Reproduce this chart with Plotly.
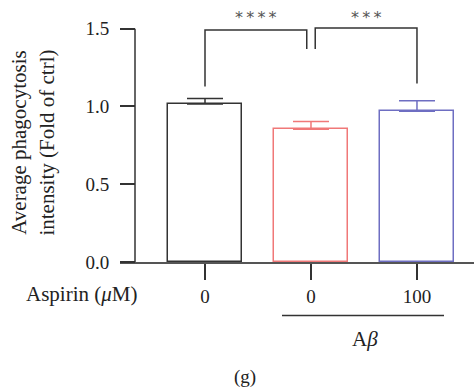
import plotly.graph_objects as go

# ---- data ----
categories = [0, 1, 2]
tick_labels = ["0", "0", "100"]
means = [1.015, 0.853, 0.969]
sem = [0.036, 0.05, 0.067]
colors = ["#333333", "#F07878", "#6E6EC2"]
y_ticks = [0.0, 0.5, 1.0, 1.5]
y_tick_labels = ["0.0", "0.5", "1.0", "1.5"]
comparisons = [  # (x0, x1, y_top, y_left_end, y_right_end, label)
    (0.0, 0.96, 1.492, 1.129, 1.370, "*\u2009*\u2009*\u2009*"),
    (1.04, 2.0, 1.504, 1.370, 1.147, "*\u2009*\u2009*"),
]
star_y = 1.571

W, H = 476, 388
L, R_, T, B = 120, 2, 10.3, 125.5
XMIN, XMAX = -0.802, 2.538
YMAX = 1.62
PW, PH = W - L - R_, H - T - B

def px_x(px):
    return (px - L) / PW

def px_y(py):
    return (H - B - py) / PH

FONT = "Liberation Serif, Times New Roman, serif"
fig = go.Figure()
for x, m, e, c in zip(categories, means, sem, colors):
    fig.add_trace(go.Bar(
        x=[x], y=[m], width=0.7,
        marker=dict(color="white", line=dict(color=c, width=1.5)),
        error_y=dict(type="data", array=[e], arrayminus=[0], symmetric=False,
                     color=c, thickness=1.5, width=18),
        showlegend=False, hoverinfo="skip",
    ))

shapes = []
# y axis line
shapes.append(dict(type="line", xref="paper", yref="y", x0=px_x(135), x1=px_x(135),
                   y0=0, y1=1.5, line=dict(color="#333333", width=1.5)))
for x0, x1, yt, yl, yr, lab in comparisons:
    shapes.append(dict(type="path", xref="x", yref="y",
                       path=f"M {x0},{yl} L {x0},{yt} L {x1},{yt} L {x1},{yr}",
                       line=dict(color="#333333", width=1.5)))
# A-beta underline
shapes.append(dict(type="line", xref="paper", yref="paper", x0=px_x(282), x1=px_x(444),
                   y0=px_y(316), y1=px_y(316), line=dict(color="#333333", width=1.5)))

annotations = []
for x0, x1, yt, yl, yr, lab in comparisons:
    annotations.append(dict(x=(x0 + x1) / 2, y=star_y, xref="x", yref="y", text=lab,
                            xanchor="center", yanchor="middle", showarrow=False,
                            font=dict(family="DejaVu Sans", size=16, color="#555555")))
annotations += [
    dict(x=px_x(33), y=px_y(143), xref="paper", yref="paper", textangle=-90,
         xanchor="center", yanchor="middle",
         text="Average phagocytosis<br>intensity (Fold of ctrl)", showarrow=False,
         font=dict(family=FONT, size=21, color="#222222")),
    dict(x=px_x(81), y=px_y(295), xref="paper", yref="paper",
         xanchor="center", yanchor="middle",
         text="Aspirin (<i>μ</i>M)", showarrow=False,
         font=dict(family=FONT, size=21, color="#222222")),
    dict(x=px_x(365), y=px_y(340), xref="paper", yref="paper",
         xanchor="center", yanchor="middle",
         text="A<i>β</i>", showarrow=False,
         font=dict(family=FONT, size=21, color="#222222")),
    dict(x=px_x(245), y=px_y(378), xref="paper", yref="paper",
         xanchor="center", yanchor="middle",
         text="(g)", showarrow=False,
         font=dict(family=FONT, size=19, color="#222222")),
]

fig.update_layout(
    width=W, height=H,
    margin=dict(l=L, r=R_, t=T, b=B, pad=0),
    plot_bgcolor="white", paper_bgcolor="white",
    bargap=0, barmode="overlay",
    shapes=shapes, annotations=annotations,
    xaxis=dict(range=[XMIN, XMAX], tickvals=categories, ticktext=tick_labels,
               showline=True, linecolor="#555555", linewidth=1.5,
               ticks="outside", ticklen=16, tickwidth=1.5, tickcolor="#333333",
               showgrid=False, zeroline=False, automargin=False,
               tickfont=dict(family=FONT, size=19, color="#222222")),
    yaxis=dict(range=[0, YMAX], anchor="free", position=px_x(135),
               tickvals=y_ticks, ticktext=y_tick_labels,
               showline=False, ticks="outside", ticklen=15, tickwidth=1.5,
               tickcolor="#333333", showgrid=False, zeroline=False, automargin=False,
               ticklabelstandoff=7,
               tickfont=dict(family=FONT, size=19, color="#222222")),
)

fig.write_html("out.html", config={"displayModeBar": False},
               post_script="document.body.style.margin='0';")
